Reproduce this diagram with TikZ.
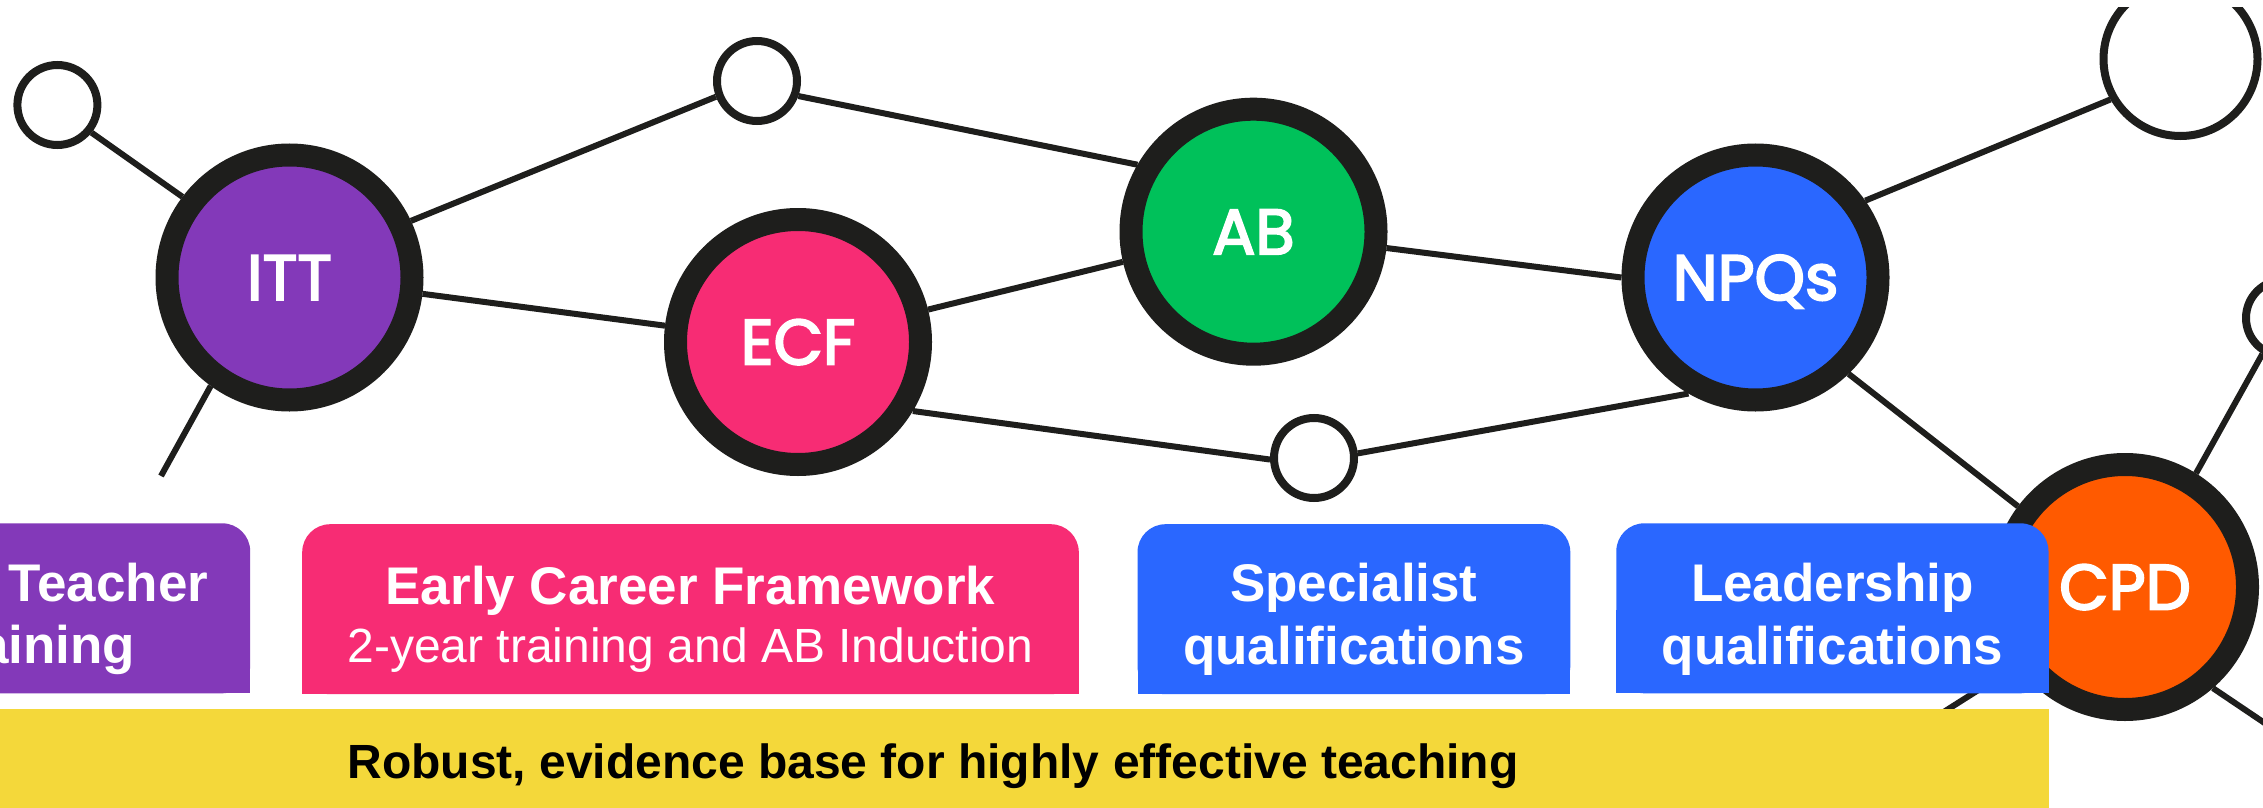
\documentclass[tikz,border=0pt]{standalone}
\usepackage{fontspec}
\setmainfont{Liberation Sans}
\newfontfamily\circfont{Poppins}[FakeBold=3]
\definecolor{ringc}{HTML}{1E1E1C}
\definecolor{purplec}{HTML}{8339B9}
\definecolor{pinkc}{HTML}{F72C74}
\definecolor{greenc}{HTML}{00C15A}
\definecolor{bluec}{HTML}{2A67FF}
\definecolor{orangec}{HTML}{FF5A00}
\definecolor{yellowc}{HTML}{F4D83A}
\pgfdeclarelayer{back}
\pgfdeclarelayer{bg}
\pgfsetlayers{back,bg,main}
\begin{document}
\begin{tikzpicture}[x=1pt,y=-1pt,
  bignode/.style={circle, draw=ringc, line width=23pt, minimum size=245pt, inner sep=0pt,
    text=white, font=\circfont\fontsize{64}{64}\selectfont, text height=45pt, text depth=0pt},
  smallnode/.style={circle, draw=ringc, line width=8pt, fill=white, minimum size=80pt, inner sep=0pt},
  link/.style={draw=ringc, line width=6pt},
  boxst/.style={rectangle, rounded corners=28pt, inner sep=0pt, minimum height=170pt},
  headtxt/.style={text=white, inner sep=0pt, anchor=base, font=\bfseries\fontsize{53}{60}\selectfont},
  subtxt/.style={text=white, inner sep=0pt, anchor=base, font=\fontsize{48}{56}\selectfont},
  basetxt/.style={text=black, inner sep=0pt, anchor=base, font=\bfseries\fontsize{48}{56}\selectfont}
]
\useasboundingbox (0,0) rectangle (2263,808);
\clip (0,0) rectangle (2263,808);
\begin{pgfonlayer}{back}
  \fill[white] (0,0) rectangle (2263,808);
\end{pgfonlayer}

% big circles
\node[bignode, fill=purplec] (itt) at (289.5,277.5) {ITT};
\node[bignode, fill=pinkc]   (ecf) at (798,342) {ECF};
\node[bignode, fill=greenc]  (ab)  at (1253.5,231.7) {AB};
\node[bignode, fill=bluec]   (npq) at (1755.5,277.5) {NPQs};
\node[bignode, fill=orangec] (cpd) at (2125,587) {CPD};

% small circles
\node[smallnode] (tl) at (57.4,105) {};
\node[smallnode] (s1) at (757,81) {};
\node[smallnode] (s2) at (1314,458) {};
\node[smallnode, minimum size=76pt] (rs) at (2284,318) {};
\begin{scope}
  \clip (1900,8) rectangle (2263,400);
  \node[smallnode, minimum size=154pt] (tr) at (2180.5,59) {};
\end{scope}

% free ends
\coordinate (ittend) at (161,476);
\coordinate (cpdend1) at (2275,730);
\coordinate (cpdend2) at (1920,727);

% connectors
\begin{pgfonlayer}{bg}
  \draw[link] (tl.321) -- (itt.143);
  \draw[link] (itt.25) -- (s1.201);
  \draw[link] (itt.353) -- (ecf.173);
  \draw[link] (itt.234) -- (ittend);
  \draw[link] (s1.340) -- (ab.150);
  \draw[link] (ecf.14) -- (ab.193);
  \draw[link] (ecf.329) -- (s2.182);
  \draw[link] (s2.6) -- (npq.240);
  \draw[link] (ab.353) -- (npq.180);
  \draw[link] (npq.35) -- (tr.210);
  \draw[link] (npq.314) -- (cpd.143);
  \draw[link] (cpd.58) -- (rs.239);
  \draw[link] (cpd.311) -- (cpdend1);
  \draw[link] (cpd.216) -- (cpdend2);
\end{pgfonlayer}

% boxes (sharp bottom fillers, then rounded boxes)
\fill[purplec] (-180,610) rectangle (250.2,693.3);
\node[boxst, fill=purplec, minimum width=430.2pt] (ittbox) at (35.1,608.3) {};
\fill[pinkc] (302.2,610) rectangle (1078.8,694.3);
\node[boxst, fill=pinkc, minimum width=776.6pt] (ecfbox) at (690.5,609.2) {};
\fill[bluec] (1137.5,610) rectangle (1570.3,694.3);
\node[boxst, fill=bluec, minimum width=432.8pt] (spbox) at (1353.9,609.2) {};
\fill[bluec] (1616.3,610) rectangle (2048.5,693.3);
\node[boxst, fill=bluec, minimum width=432.2pt] (ldbox) at (1832.4,608.3) {};
\fill[yellowc] (-182,708.8) rectangle (2048.5,830);

% texts
\node[headtxt] (ittt1) at (32,601) {Initial Teacher};
\node[headtxt] (ittt2) at (32,663) {Training};
\node[headtxt] (ecft1) at (690.5,604) {Early Career Framework};
\node[subtxt]  (ecft2) at (690.5,662.7) {2-year training and AB Induction};
\node[headtxt] (spt1) at (1353.9,601) {Specialist};
\node[headtxt] (spt2) at (1353.9,664) {qualifications};
\node[headtxt] (ldt1) at (1832.4,601) {Leadership};
\node[headtxt] (ldt2) at (1832.4,664) {qualifications};
\node[basetxt] (yt) at (933,778.3) {Robust, evidence base for highly effective teaching};
\end{tikzpicture}
\end{document}
